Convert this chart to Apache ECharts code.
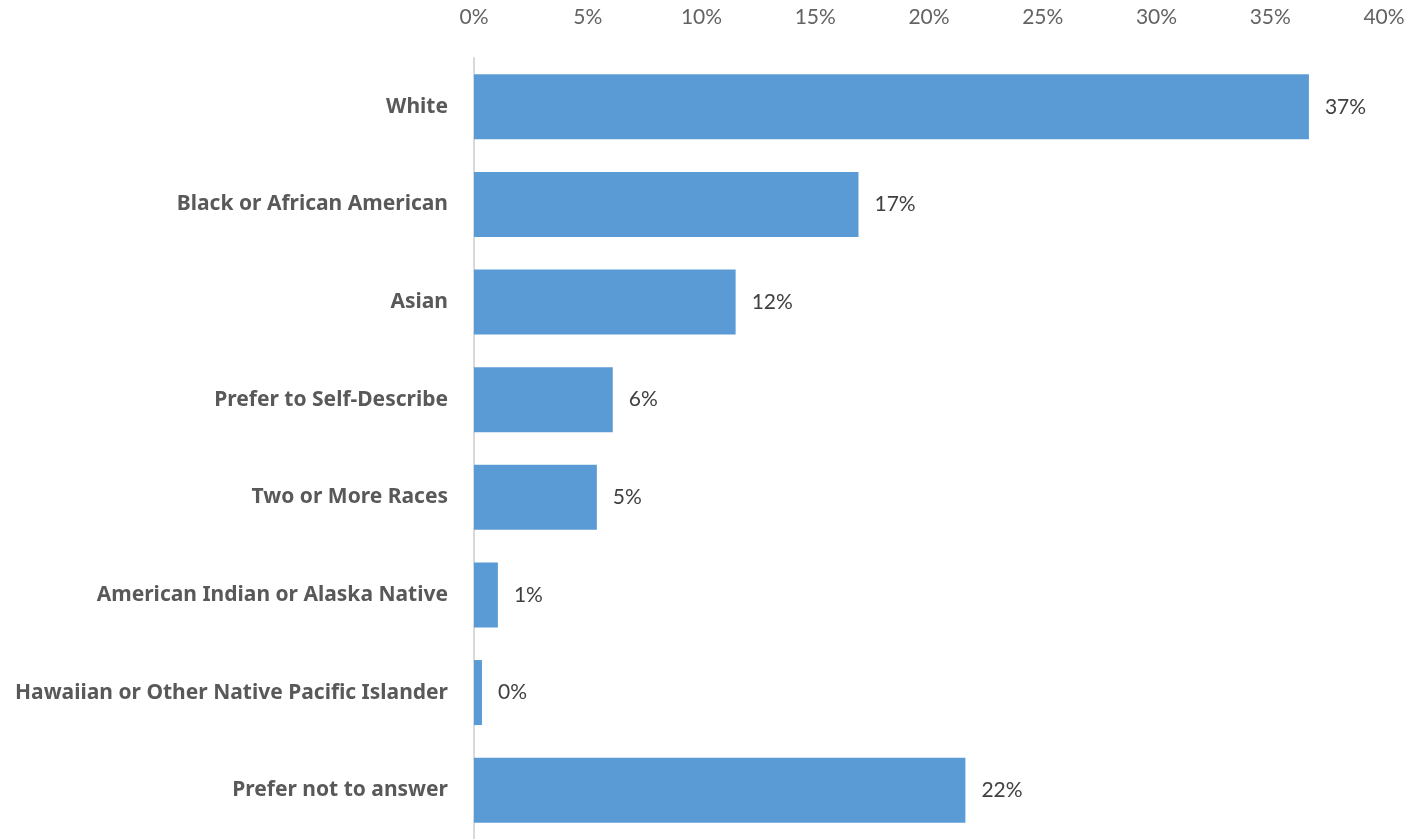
<!DOCTYPE html>
<html>
<head>
<meta charset="utf-8">
<script src="https://cdn.jsdelivr.net/npm/echarts@6/dist/echarts.min.js"></script>
<style>
  html, body { margin: 0; padding: 0; background: #ffffff; }
  #chart { width: 1420px; height: 839px; }
</style>
</head>
<body>
<div id="chart"></div>
<script>
// Share of respondents by race / ethnicity (percent)
const categories = [
  'White',
  'Black or African American',
  'Asian',
  'Prefer to Self-Describe',
  'Two or More Races',
  'American Indian or Alaska Native',
  'Hawaiian or Other Native Pacific Islander',
  'Prefer not to answer'
];
const shares = [36.7, 16.9, 11.5, 6.1, 5.4, 1.05, 0.35, 21.6];
const tickValues = [0, 5, 10, 15, 20, 25, 30, 35, 40];

const chart = echarts.init(document.getElementById('chart'));
const numFont = 'Lato, "Open Sans", "Noto Sans", sans-serif';
const catFont = '"Noto Sans", "Open Sans", sans-serif';

chart.setOption({
  animation: false,
  grid: { left: 474, right: 36, top: 58, height: 784, containLabel: false },
  xAxis: {
    type: 'value',
    position: 'top',
    min: tickValues[0],
    max: tickValues[tickValues.length - 1],
    interval: tickValues[1] - tickValues[0],
    axisLine: { show: false },
    axisTick: { show: false },
    splitLine: { show: false },
    axisLabel: {
      margin: 30,
      color: '#636363',
      fontSize: 21,
      fontFamily: numFont,
      formatter: v => v + '%'
    }
  },
  yAxis: {
    type: 'category',
    inverse: true,
    data: categories,
    axisLine: { show: true, lineStyle: { color: '#d9d9d9', width: 2 } },
    axisTick: { show: false },
    axisLabel: {
      margin: 26,
      color: '#595959',
      fontSize: 21,
      fontWeight: 'bold',
      fontFamily: catFont
    }
  },
  series: [{
    type: 'bar',
    data: shares,
    barWidth: 65,
    itemStyle: { color: '#5b9bd5' },
    label: {
      show: true,
      position: 'right',
      distance: 16,
      color: '#404040',
      fontSize: 21,
      fontFamily: numFont,
      formatter: p => Math.round(p.value) + '%'
    }
  }]
});
</script>
</body>
</html>
